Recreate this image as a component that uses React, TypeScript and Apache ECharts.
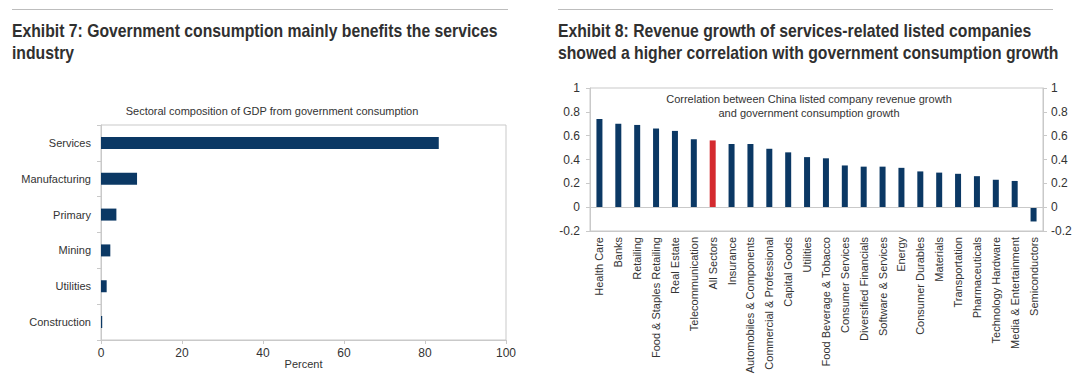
import React, { useEffect, useRef } from "react";
import * as echarts from "echarts";

const leftCategories = ["Services", "Manufacturing", "Primary", "Mining", "Utilities", "Construction"];
const leftValues = [83.4, 8.9, 3.8, 2.3, 1.4, 0.3];
const leftTicks = [0, 20, 40, 60, 80, 100];

const rightCategories = [
  "Health Care", "Banks", "Retailing", "Food & Staples Retailing", "Real Estate", "Telecommunication",
  "All Sectors", "Insurance", "Automobiles & Components", "Commercial & Professional", "Capital Goods",
  "Utilities", "Food Beverage & Tobacco", "Consumer Services", "Diversified Financials",
  "Software & Services", "Energy", "Consumer Durables", "Materials", "Transportation",
  "Pharmaceuticals", "Technology Hardware", "Media & Entertainment", "Semiconductors",
];
const rightValues = [
  0.74, 0.70, 0.69, 0.66, 0.64, 0.57, 0.56, 0.53, 0.53, 0.49, 0.46, 0.42, 0.41, 0.35, 0.34, 0.34,
  0.33, 0.30, 0.29, 0.28, 0.26, 0.23, 0.22, -0.12,
];
const highlightCategory = "All Sectors";

const NAVY = "#0b3864";
const RED = "#d42a2f";
const GRID_GREY = "#c9c9c9";
const TEXT = "#333333";
const FONT = "'Liberation Sans', Arial, sans-serif";
const TITLE_FONT = "'Liberation Sans', Arial, sans-serif";

export default function App() {
  const ref = useRef<HTMLDivElement>(null);
  useEffect(() => {
    if (!ref.current) return;
    const chart = echarts.init(ref.current, null, { renderer: "svg" });
    const fmt = (v: number) => String(Math.round(v * 10) / 10);
    const option: any = {
      animation: false,
      textStyle: { fontFamily: FONT, color: TEXT },
      graphic: [
        { type: "line", shape: { x1: 12, y1: 9.5, x2: 508, y2: 9.5 }, style: { stroke: "#bdbdbd", lineWidth: 1 } },
        { type: "line", shape: { x1: 558, y1: 9.5, x2: 1053, y2: 9.5 }, style: { stroke: "#bdbdbd", lineWidth: 1 } },
        {
          type: "text", x: 12, y: 20, scaleX: 0.875,
          style: {
            text: "Exhibit 7: Government consumption mainly benefits the services\nindustry",
            font: `bold 18px ${TITLE_FONT}`, fill: "#303030", lineHeight: 22, verticalAlign: "top",
          },
        },
        {
          type: "text", x: 558, y: 20, scaleX: 0.875,
          style: {
            text: "Exhibit 8: Revenue growth of services-related listed companies\nshowed a higher correlation with government consumption growth",
            font: `bold 18px ${TITLE_FONT}`, fill: "#303030", lineHeight: 22, verticalAlign: "top",
          },
        },
        {
          type: "text", x: 272, y: 111,
          style: {
            text: "Sectoral composition of GDP from government consumption",
            font: `11px ${FONT}`, fill: TEXT, align: "center", verticalAlign: "middle",
          },
        },
        {
          type: "text", x: 809, y: 106,
          style: {
            text: "Correlation between China listed company revenue growth\nand government consumption growth",
            font: `11px ${FONT}`, fill: TEXT, align: "center", verticalAlign: "middle", lineHeight: 14,
          },
        },
      ],
      grid: [
        { left: 101, right: 574, top: 125, bottom: 38, show: true, borderColor: GRID_GREY, borderWidth: 1, containLabel: false },
        { left: 590, right: 37, top: 88, bottom: 147, show: true, borderColor: GRID_GREY, borderWidth: 1, containLabel: false },
      ],
      xAxis: [
        {
          gridIndex: 0, type: "value", min: leftTicks[0], max: leftTicks[leftTicks.length - 1], interval: 20,
          axisLine: { show: true, lineStyle: { color: GRID_GREY } },
          axisTick: { show: true, length: 4, lineStyle: { color: GRID_GREY } },
          splitLine: { show: false },
          axisLabel: { fontSize: 12, color: TEXT, margin: 7 },
          name: "Percent", nameLocation: "middle", nameGap: 18, nameMoveOverlap: false,
          nameTextStyle: { fontSize: 11, color: TEXT, verticalAlign: "top" },
        },
        {
          gridIndex: 1, type: "category", data: rightCategories,
          axisLine: { show: true, onZero: false, lineStyle: { color: GRID_GREY } },
          axisTick: { show: false },
          axisLabel: { rotate: 90, interval: 0, fontSize: 11, color: TEXT, margin: 6 },
        },
      ],
      yAxis: [
        {
          gridIndex: 0, type: "category", data: leftCategories, inverse: true,
          axisLine: { show: true, lineStyle: { color: GRID_GREY } },
          axisTick: { show: true, length: 4, lineStyle: { color: GRID_GREY } },
          axisLabel: { fontSize: 11, color: TEXT, margin: 10 },
        },
        {
          gridIndex: 1, type: "value", min: -0.2, max: 1, interval: 0.2, position: "left",
          axisLine: { show: true, lineStyle: { color: GRID_GREY } },
          axisTick: { show: true, length: 4, lineStyle: { color: GRID_GREY } },
          splitLine: { show: false },
          axisLabel: { fontSize: 12, color: TEXT, margin: 10, formatter: fmt },
        },
        {
          gridIndex: 1, type: "value", min: -0.2, max: 1, interval: 0.2, position: "right",
          axisLine: { show: true, lineStyle: { color: GRID_GREY } },
          axisTick: { show: true, length: 4, lineStyle: { color: GRID_GREY } },
          splitLine: { show: false },
          axisLabel: { fontSize: 12, color: TEXT, margin: 8, formatter: fmt },
        },
      ],
      series: [
        {
          type: "bar", xAxisIndex: 0, yAxisIndex: 0, data: leftValues, barWidth: 12,
          itemStyle: { color: NAVY },
        },
        {
          type: "bar", xAxisIndex: 1, yAxisIndex: 1, barWidth: 6,
          data: rightValues.map((v, i) => ({
            value: v,
            itemStyle: { color: rightCategories[i] === highlightCategory ? RED : NAVY },
          })),
          markLine: {
            silent: true, symbol: "none", label: { show: false },
            lineStyle: { color: GRID_GREY, type: "solid", width: 1 },
            data: [{ yAxis: 0 }],
          },
          z: 3,
        },
      ],
    };
    chart.setOption(option);
    return () => chart.dispose();
  }, []);
  return (
    <div
      ref={ref}
      style={{ position: "fixed", left: 0, top: 0, width: 1080, height: 378, background: "#ffffff" }}
    />
  );
}
